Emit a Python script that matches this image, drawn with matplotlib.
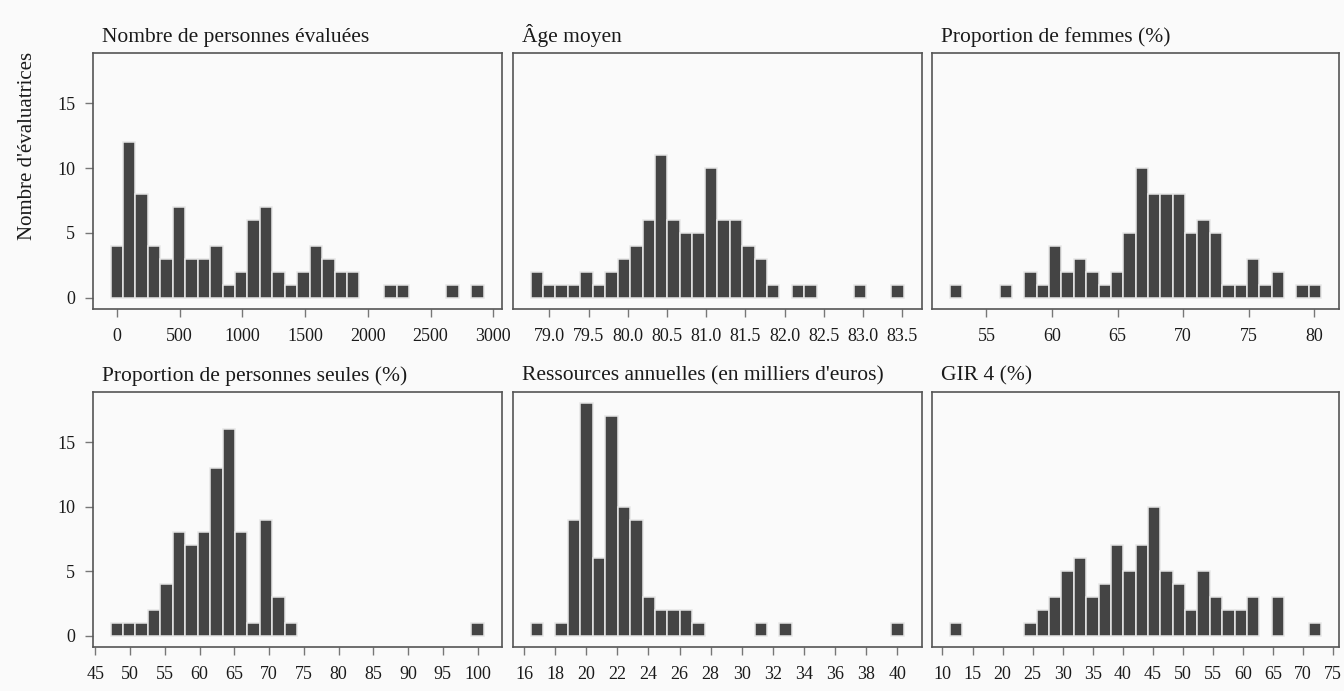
import numpy as np
import matplotlib.pyplot as plt

plt.rcParams['font.family'] = ['Liberation Serif', 'DejaVu Serif']

# Titres des six panneaux
titres = ["Nombre de personnes évaluées", "Âge moyen", "Proportion de femmes (%)",
          "Proportion de personnes seules (%)", "Ressources annuelles (en milliers d'euros)", "GIR 4 (%)"]

# Nombre d'évaluatrices par classe (30 classes de même largeur)
nb_personnes = [4, 12, 8, 4, 3, 7, 3, 3, 4, 1, 2, 6, 7, 2, 1, 2, 4, 3, 2, 2, 0, 0, 1, 1, 0, 0, 0, 1, 0, 1]
age_moyen = [2, 1, 1, 1, 2, 1, 2, 3, 4, 6, 11, 6, 5, 5, 10, 6, 6, 4, 3, 1, 0, 1, 1, 0, 0, 0, 1, 0, 0, 1]
femmes = [1, 0, 0, 0, 1, 0, 2, 1, 4, 2, 3, 2, 1, 2, 5, 10, 8, 8, 8, 5, 6, 5, 1, 1, 3, 1, 2, 0, 1, 1]
seules = [1, 1, 1, 2, 4, 8, 7, 8, 13, 16, 8, 1, 9, 3, 1, 0, 0, 0, 0, 0, 0, 0, 0, 0, 0, 0, 0, 0, 0, 1]
ressources = [1, 0, 1, 9, 18, 6, 17, 10, 9, 3, 2, 2, 2, 1, 0, 0, 0, 0, 1, 0, 1, 0, 0, 0, 0, 0, 0, 0, 0, 1]
gir4 = [1, 0, 0, 0, 0, 0, 1, 2, 3, 5, 6, 3, 4, 7, 5, 7, 10, 5, 4, 2, 5, 3, 2, 2, 3, 0, 3, 0, 0, 1]

# Centre de la première et de la dernière classe
centre_min = [0, 78.84, 52.7, 48.1, 16.82, 12.3]
centre_max = [2875, 83.44, 80.06, 100.0, 40.02, 71.97]

# Graduations de l'axe x
graduations = [[0, 500, 1000, 1500, 2000, 2500, 3000],
               [79.0, 79.5, 80.0, 80.5, 81.0, 81.5, 82.0, 82.5, 83.0, 83.5],
               [55, 60, 65, 70, 75, 80],
               [45, 50, 55, 60, 65, 70, 75, 80, 85, 90, 95, 100],
               [16, 18, 20, 22, 24, 26, 28, 30, 32, 34, 36, 38, 40],
               [10, 15, 20, 25, 30, 35, 40, 45, 50, 55, 60, 65, 70, 75]]
etiquettes_x = [None, [f"{v:.1f}" for v in graduations[1]], None, None, None, None]

effectifs = [nb_personnes, age_moyen, femmes, seules, ressources, gir4]

W, H = 1344, 691
fig = plt.figure(figsize=(W / 100, H / 100), dpi=100, facecolor='#fafafa')

# Boîtes des panneaux en pixels (gauche, droite) / (haut, bas)
colonnes = [(92.7, 501.7), (512.7, 921.7), (932.3, 1339)]
lignes = [(52.7, 309.3), (391.7, 647.3)]

for i in range(6):
    r, c = divmod(i, 3)
    x0, x1 = colonnes[c]
    y0, y1 = lignes[r]
    ax = fig.add_axes([x0 / W, 1 - y1 / H, (x1 - x0) / W, (y1 - y0) / H])
    ax.set_facecolor('#fafafa')

    n = np.array(effectifs[i])
    centres = np.linspace(centre_min[i], centre_max[i], len(n))
    largeur = centres[1] - centres[0]
    garde = n > 0
    ax.bar(centres[garde], n[garde], width=largeur, color='#444444',
           edgecolor='#e6e6e6', linewidth=1.1)

    gauche = centres[0] - largeur / 2
    droite = centres[-1] + largeur / 2
    marge = 0.048 * (droite - gauche)
    ax.set_xlim(gauche - marge, droite + marge)
    ax.set_ylim(-0.9, 18.9)

    ax.set_xticks(graduations[i])
    if etiquettes_x[i] is not None:
        ax.set_xticklabels(etiquettes_x[i])
    ax.tick_params(axis='x', direction='out', length=5.5, width=1, color='#777777',
                   pad=8, labelsize=13, labelcolor='#1a1a1a')
    if c == 0:
        ax.set_yticks([0, 5, 10, 15])
        ax.tick_params(axis='y', direction='out', length=5.5, width=1, color='#777777',
                       pad=7, labelsize=13, labelcolor='#1a1a1a')
    else:
        ax.set_yticks([])

    for s in ax.spines.values():
        s.set_color('#555555')
        s.set_linewidth(1.2)

    fig.text((x0 + 9) / W, 1 - (y0 - 11) / H, titres[i], ha='left', va='baseline',
             fontsize=15.5, color='#1a1a1a')

fig.text(27 / W, 1 - 52 / H, "Nombre d'évaluatrices", rotation=90, ha='center', va='top',
         fontsize=15, color='#1a1a1a')

fig.savefig('out.png', dpi=100, facecolor=fig.get_facecolor())
